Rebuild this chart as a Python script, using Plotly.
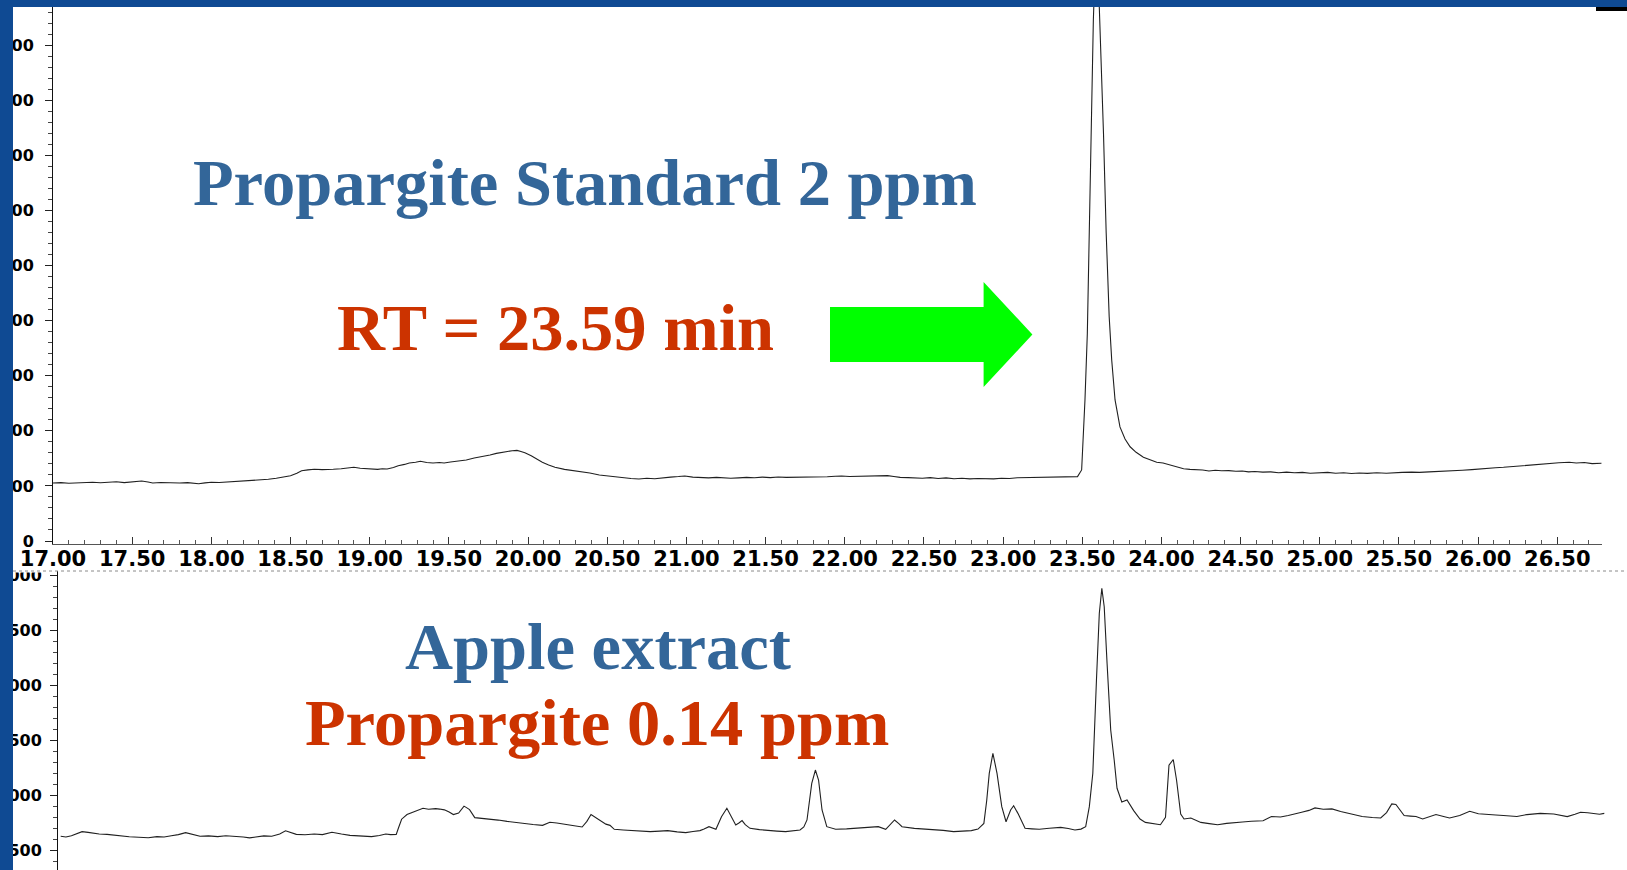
import plotly.graph_objects as go

# ---------------------------------------------------------------------------
# Chromatogram data: retention time (min) and abundance (counts)
# ---------------------------------------------------------------------------

# Propargite standard, 2 ppm
STD_TIME = [
    17.00, 17.05, 17.10, 17.15, 17.20, 17.25, 17.30, 17.35, 17.40, 17.45,
    17.50, 17.56, 17.60, 17.63, 17.68, 17.72, 17.76, 17.80, 17.85, 17.88,
    17.92, 17.96, 18.00, 18.05, 18.10, 18.16, 18.20, 18.25, 18.31, 18.36,
    18.41, 18.46, 18.50, 18.54, 18.57, 18.61, 18.65, 18.70, 18.74, 18.77,
    18.82, 18.86, 18.90, 18.94, 18.97, 19.01, 19.05, 19.08, 19.11, 19.15,
    19.18, 19.22, 19.25, 19.29, 19.32, 19.36, 19.40, 19.44, 19.47, 19.51,
    19.56, 19.61, 19.66, 19.71, 19.76, 19.80, 19.83, 19.87, 19.90, 19.93,
    19.95, 19.98, 20.02, 20.05, 20.09, 20.13, 20.17, 20.23, 20.29, 20.34,
    20.39, 20.45, 20.50, 20.55, 20.60, 20.65, 20.70, 20.75, 20.80, 20.85,
    20.90, 20.95, 20.99, 21.04, 21.09, 21.14, 21.19, 21.24, 21.28, 21.33,
    21.38, 21.43, 21.48, 21.53, 21.58, 21.63, 21.69, 21.74, 21.79, 21.84,
    21.89, 21.94, 21.98, 22.03, 22.08, 22.13, 22.18, 22.23, 22.27, 22.31,
    22.35, 22.40, 22.44, 22.49, 22.54, 22.59, 22.64, 22.69, 22.74, 22.79,
    22.84, 22.89, 22.94, 22.99, 23.04, 23.09, 23.14, 23.18, 23.23, 23.28,
    23.33, 23.38, 23.43, 23.47, 23.496, 23.517, 23.532, 23.544, 23.549, 23.560,
    23.570, 23.590, 23.609, 23.617, 23.634, 23.651, 23.670, 23.686, 23.707, 23.738,
    23.770, 23.802, 23.840, 23.886, 23.94, 23.97, 24.01, 24.05, 24.094, 24.14,
    24.18, 24.22, 24.26, 24.30, 24.34, 24.38, 24.425, 24.47, 24.51, 24.55,
    24.59, 24.64, 24.69, 24.74, 24.79, 24.84, 24.89, 24.94, 25.005, 25.05,
    25.10, 25.15, 25.20, 25.25, 25.30, 25.36, 25.42, 25.47, 25.52, 25.58,
    25.63, 25.69, 25.75, 25.80, 25.85, 25.90, 25.96, 26.01, 26.06, 26.11,
    26.16, 26.21, 26.26, 26.31, 26.36, 26.41, 26.46, 26.51, 26.575, 26.62,
    26.67, 26.72, 26.78,
]
STD_ABUND = [
    10530, 10600, 10480, 10560, 10620, 10650, 10560, 10700, 10760, 10600,
    10680, 10890, 10700, 10530, 10620, 10580, 10650, 10520, 10600, 10480,
    10400, 10550, 10650, 10620, 10700, 10760, 10820, 10900, 11020, 11200,
    11380, 11600, 11850, 12300, 12760, 12900, 13010, 12950, 13050, 13010,
    13100, 13200, 13380, 13200, 13150, 13070, 13000, 13120, 13070, 13350,
    13670, 13900, 14160, 14300, 14460, 14250, 14160, 14250, 14160, 14350,
    14520, 14700, 15060, 15300, 15610, 15900, 16100, 16250, 16390, 16450,
    16280, 16000, 15480, 14900, 14280, 13800, 13380, 13000, 12760, 12500,
    12340, 11980, 11800, 11600, 11450, 11350, 11250, 11400, 11300, 11500,
    11600, 11700, 11810, 11600, 11500, 11450, 11550, 11400, 11380, 11450,
    11550, 11480, 11600, 11500, 11620, 11550, 11560, 11650, 11600, 11720,
    11650, 11760, 11810, 11700, 11750, 11680, 11780, 11820, 11870, 11700,
    11550, 11500, 11450, 11400, 11500, 11350, 11450, 11300, 11400, 11280,
    11350, 11300, 11270, 11400, 11350, 11480, 11500, 11560, 11500, 11620,
    11550, 11650, 11600, 11690, 12900, 25600, 37700, 55900, 67900, 86000,
    94600, 112000, 96900, 89100, 74000, 55900, 40700, 32800, 25600, 20700,
    18500, 17100, 16100, 15200, 14600, 14280, 14160, 13800, 13380, 13100,
    13000, 12950, 12890, 12700, 12850, 12750, 12780, 12650, 12700, 12550,
    12600, 12500, 12550, 12400, 12500, 12380, 12450, 12300, 12360, 12450,
    12300, 12380, 12250, 12350, 12280, 12400, 12290, 12400, 12450, 12500,
    12450, 12550, 12600, 12700, 12780, 12850, 12960, 13100, 13150, 13300,
    13380, 13500, 13650, 13800, 13850, 13970, 14100, 14200, 14280, 14150,
    14250, 14050, 14100,
]

# Apple extract, propargite found at 0.14 ppm
APPLE_TIME = [
    17.017, 17.05, 17.085, 17.12, 17.152, 17.19, 17.22, 17.26, 17.31, 17.35,
    17.40, 17.45, 17.51, 17.57, 17.625, 17.67, 17.716, 17.76, 17.806, 17.85,
    17.897, 17.95, 18.009, 18.06, 18.12, 18.17, 18.21, 18.26, 18.30, 18.35,
    18.40, 18.437, 18.47, 18.505, 18.56, 18.618, 18.67, 18.73, 18.79, 18.844,
    18.90, 18.98, 19.03, 19.07, 19.10, 19.136, 19.15, 19.17, 19.204, 19.248,
    19.28, 19.305, 19.34, 19.385, 19.41, 19.44, 19.47, 19.497, 19.53, 19.55,
    19.564, 19.58, 19.599, 19.632, 19.67, 19.72, 19.78, 19.836, 19.89, 19.95,
    20.00, 20.06, 20.106, 20.15, 20.196, 20.25, 20.31, 20.34, 20.366, 20.39,
    20.42, 20.46, 20.486, 20.513, 20.57, 20.625, 20.68, 20.74, 20.80, 20.85,
    20.91, 20.964, 21.01, 21.054, 21.08, 21.111, 21.155, 21.17, 21.19, 21.224,
    21.253, 21.28, 21.30, 21.32, 21.34, 21.37, 21.43, 21.483, 21.54, 21.595,
    21.64, 21.686, 21.71, 21.73, 21.76, 21.783, 21.803, 21.825, 21.855, 21.911,
    21.98, 22.046, 22.11, 22.18, 22.227, 22.25, 22.283, 22.31, 22.33, 22.408,
    22.46, 22.52, 22.59, 22.656, 22.71, 22.768, 22.81, 22.847, 22.865, 22.881,
    22.904, 22.93, 22.96, 22.987, 23.016, 23.035, 23.062, 23.085, 23.107, 23.15,
    23.197, 23.26, 23.332, 23.38, 23.422, 23.46, 23.49, 23.513, 23.535, 23.558,
    23.576, 23.592, 23.607, 23.625, 23.648, 23.67, 23.688, 23.718, 23.751, 23.793,
    23.833, 23.867, 23.92, 23.962, 23.994, 24.016, 24.043, 24.064, 24.09, 24.111,
    24.154, 24.217, 24.27, 24.323, 24.38, 24.43, 24.48, 24.536, 24.61, 24.663,
    24.72, 24.769, 24.81, 24.854, 24.90, 24.938, 24.99, 25.045, 25.10, 25.151,
    25.19, 25.236, 25.30, 25.353, 25.39, 25.423, 25.449, 25.475, 25.501, 25.54,
    25.576, 25.618, 25.66, 25.702, 25.75, 25.788, 25.852, 25.915, 25.97, 26.022,
    26.08, 26.128, 26.17, 26.213, 26.276, 26.32, 26.361, 26.446, 26.49, 26.531,
    26.58, 26.615, 26.66, 26.70, 26.735, 26.765,
]
APPLE_ABUND = [
    1625, 1618, 1630, 1650, 1667, 1660, 1653, 1645, 1642, 1635,
    1627, 1620, 1616, 1612, 1622, 1618, 1630, 1640, 1658, 1640,
    1625, 1628, 1622, 1630, 1625, 1618, 1610, 1618, 1628, 1625,
    1645, 1675, 1660, 1642, 1638, 1645, 1640, 1661, 1645, 1633,
    1628, 1622, 1632, 1645, 1640, 1642, 1700, 1780, 1823, 1845,
    1860, 1879, 1870, 1876, 1872, 1865, 1845, 1822, 1836, 1870,
    1899, 1885, 1867, 1794, 1790, 1780, 1772, 1760, 1750, 1737,
    1732, 1724, 1752, 1745, 1737, 1722, 1709, 1760, 1822, 1800,
    1766, 1735, 1724, 1688, 1682, 1676, 1670, 1667, 1672, 1676,
    1665, 1658, 1668, 1676, 1690, 1712, 1688, 1740, 1803, 1879,
    1803, 1727, 1745, 1767, 1730, 1697, 1685, 1676, 1672, 1667,
    1675, 1682, 1710, 1773, 2106, 2227, 2136, 1864, 1712, 1688,
    1692, 1697, 1705, 1712, 1688, 1720, 1773, 1740, 1712, 1697,
    1692, 1688, 1678, 1667, 1672, 1676, 1690, 1742, 1950, 2197,
    2379, 2197, 1894, 1757, 1864, 1903, 1833, 1760, 1697, 1692,
    1688, 1698, 1706, 1695, 1682, 1690, 1712, 1894, 2197, 3045,
    3652, 3879, 3712, 3197, 2591, 2318, 2061, 1936, 1955, 1858,
    1782, 1751, 1736, 1730, 1797, 2271, 2323, 2134, 1827, 1782,
    1791, 1751, 1740, 1730, 1742, 1751, 1755, 1761, 1766, 1804,
    1800, 1813, 1825, 1843, 1860, 1883, 1870, 1874, 1850, 1833,
    1820, 1804, 1795, 1791, 1840, 1919, 1914, 1860, 1813, 1808,
    1804, 1782, 1800, 1822, 1805, 1791, 1813, 1852, 1830, 1822,
    1818, 1813, 1808, 1804, 1822, 1830, 1833, 1827, 1815, 1804,
    1825, 1843, 1838, 1833, 1825, 1833,
]

# Text drawn over the two traces
STD_TITLE = "Propargite Standard 2 ppm"
STD_RT = "RT = 23.59 min"
APPLE_TITLE = "Apple extract"
APPLE_RESULT = "Propargite 0.14 ppm"

# ---------------------------------------------------------------------------
# Page geometry (pixels) and helpers to convert to paper coordinates
# ---------------------------------------------------------------------------
W, H = 1627, 870
FRAME = "#0f4a93"
TEXT_BLUE = "#336699"
TEXT_RED = "#cc3300"
TRACE = "#202020"


def px(x):
    return x / W


def py(y):
    return 1 - y / H


PX_PER_MIN = 158.35

# upper panel
TOP_X0, TOP_X1 = 53.0, 1601.7
TOP_YBASE, TOP_YTOP, TOP_ZERO, TOP_STEP = 544.0, 7.0, 541.0, 55.1  # step = px per 10000
top_yrange = [(TOP_ZERO - TOP_YBASE) / TOP_STEP * 10000,
              (TOP_ZERO - TOP_YTOP) / TOP_STEP * 10000]
top_xrange = [17.0, 17.0 + (TOP_X1 - TOP_X0) / PX_PER_MIN]

# lower panel
BOT_X0, BOT_X1 = 58.0, 1607.0
BOT_YTOP = 571.0
BOT_REF_Y, BOT_REF_V, BOT_STEP = 850.0, 1500.0, 55.0  # step = px per 500
bot_yrange = [BOT_REF_V + (BOT_REF_Y - H) / BOT_STEP * 500,
              BOT_REF_V + (BOT_REF_Y - BOT_YTOP) / BOT_STEP * 500]
bot_xrange = [17.0, 17.0 + (BOT_X1 - BOT_X0) / PX_PER_MIN]

tick_font_x = dict(family="DejaVu Sans", size=21, color="black", weight="bold")
tick_font_y = dict(family="DejaVu Sans", size=16, color="black", weight="bold")

fig = go.Figure()
fig.add_trace(go.Scatter(x=STD_TIME, y=STD_ABUND, mode="lines",
                         line=dict(color=TRACE, width=1.1),
                         xaxis="x", yaxis="y", hoverinfo="skip"))
fig.add_trace(go.Scatter(x=APPLE_TIME, y=APPLE_ABUND, mode="lines",
                         line=dict(color=TRACE, width=1.1),
                         xaxis="x2", yaxis="y2", hoverinfo="skip"))

fig.update_layout(
    width=W, height=H,
    margin=dict(l=0, r=0, t=0, b=0, pad=0),
    paper_bgcolor="white",
    plot_bgcolor="rgba(0,0,0,0)",
    showlegend=False,
    xaxis=dict(
        domain=[px(TOP_X0), px(TOP_X1)], range=top_xrange, anchor="y",
        automargin=False,
        tickmode="linear", tick0=17.0, dtick=0.5, tickformat=".2f",
        ticks="inside", ticklen=7, tickwidth=1, tickcolor="#333",
        showline=True, linecolor="#555", linewidth=1,
        showgrid=False, zeroline=False, tickfont=tick_font_x,
        ticklabelstandoff=-4,
        minor=dict(dtick=0.1, ticks="inside", ticklen=4, tickcolor="#555",
                   showgrid=False),
    ),
    yaxis=dict(
        domain=[py(TOP_YBASE), py(TOP_YTOP)], range=top_yrange, anchor="x",
        automargin=False,
        tickmode="linear", tick0=0, dtick=10000, tickformat="d",
        ticks="outside", ticklen=7, tickwidth=1, tickcolor="#222",
        showline=True, linecolor="#111", linewidth=1,
        showgrid=False, zeroline=False, tickfont=tick_font_y,
        ticklabelstandoff=8,
        minor=dict(dtick=2000, ticks="outside", ticklen=4, tickcolor="#444",
                   showgrid=False),
    ),
    xaxis2=dict(
        domain=[px(BOT_X0), px(BOT_X1)], range=bot_xrange, anchor="y2",
        automargin=False, visible=False,
    ),
    yaxis2=dict(
        domain=[0, py(BOT_YTOP)], range=bot_yrange, anchor="x2",
        automargin=False,
        tickmode="linear", tick0=0, dtick=500, tickformat="d",
        ticks="outside", ticklen=7, tickwidth=1, tickcolor="#222",
        showline=True, linecolor="#111", linewidth=1,
        showgrid=False, zeroline=False, tickfont=tick_font_y,
        ticklabelstandoff=5,
        minor=dict(dtick=100, ticks="outside", ticklen=4, tickcolor="#444",
                   showgrid=False),
    ),
)

shapes = [
    # white strip clipping the top label of the lower chart
    dict(type="rect", xref="paper", yref="paper", layer="above",
         x0=px(13), x1=px(50), y0=py(566), y1=py(BOT_YTOP + 1.5),
         fillcolor="white", line=dict(width=0)),
    # top edge of the lower chart
    dict(type="line", xref="paper", yref="paper",
         x0=px(13), x1=1, y0=py(BOT_YTOP), y1=py(BOT_YTOP),
         line=dict(color="#8a8a8a", width=1, dash="dot"), layer="above"),
    # green arrow pointing at the standard peak
    dict(type="path", xref="paper", yref="paper", layer="above",
         path=("M {:.5f},{:.5f} L {:.5f},{:.5f} L {:.5f},{:.5f} L {:.5f},{:.5f} "
               "L {:.5f},{:.5f} L {:.5f},{:.5f} L {:.5f},{:.5f} Z").format(
             px(830), py(307), px(983.6), py(307), px(983.6), py(282),
             px(1032.4), py(334.5), px(983.6), py(387), px(983.6), py(362),
             px(830), py(362)),
         fillcolor="#00ff00", line=dict(width=0)),
    # slide frame (left and top)
    dict(type="rect", xref="paper", yref="paper", layer="above",
         x0=0, x1=px(13), y0=0, y1=1, fillcolor=FRAME, line=dict(width=0)),
    dict(type="rect", xref="paper", yref="paper", layer="above",
         x0=0, x1=1, y0=py(7), y1=1, fillcolor=FRAME, line=dict(width=0)),
    # small black bar at the top right
    dict(type="rect", xref="paper", yref="paper", layer="above",
         x0=px(1596), x1=1, y0=py(11), y1=py(7), fillcolor="black",
         line=dict(width=0)),
]
fig.update_layout(shapes=shapes)

title_font = dict(family="Liberation Serif", size=66.5, weight="bold")
labels = [
    (STD_TITLE, 585, 182.7, TEXT_BLUE),
    (STD_RT, 555.6, 327.7, TEXT_RED),
    (APPLE_TITLE, 597.7, 646.7, TEXT_BLUE),
    (APPLE_RESULT, 597, 722.7, TEXT_RED),
]
for text, cx, cy, color in labels:
    fig.add_annotation(text=text, xref="paper", yref="paper",
                       x=px(cx), y=py(cy), xanchor="center", yanchor="middle",
                       showarrow=False, font=dict(title_font, color=color))

fig.write_html("out.html")
